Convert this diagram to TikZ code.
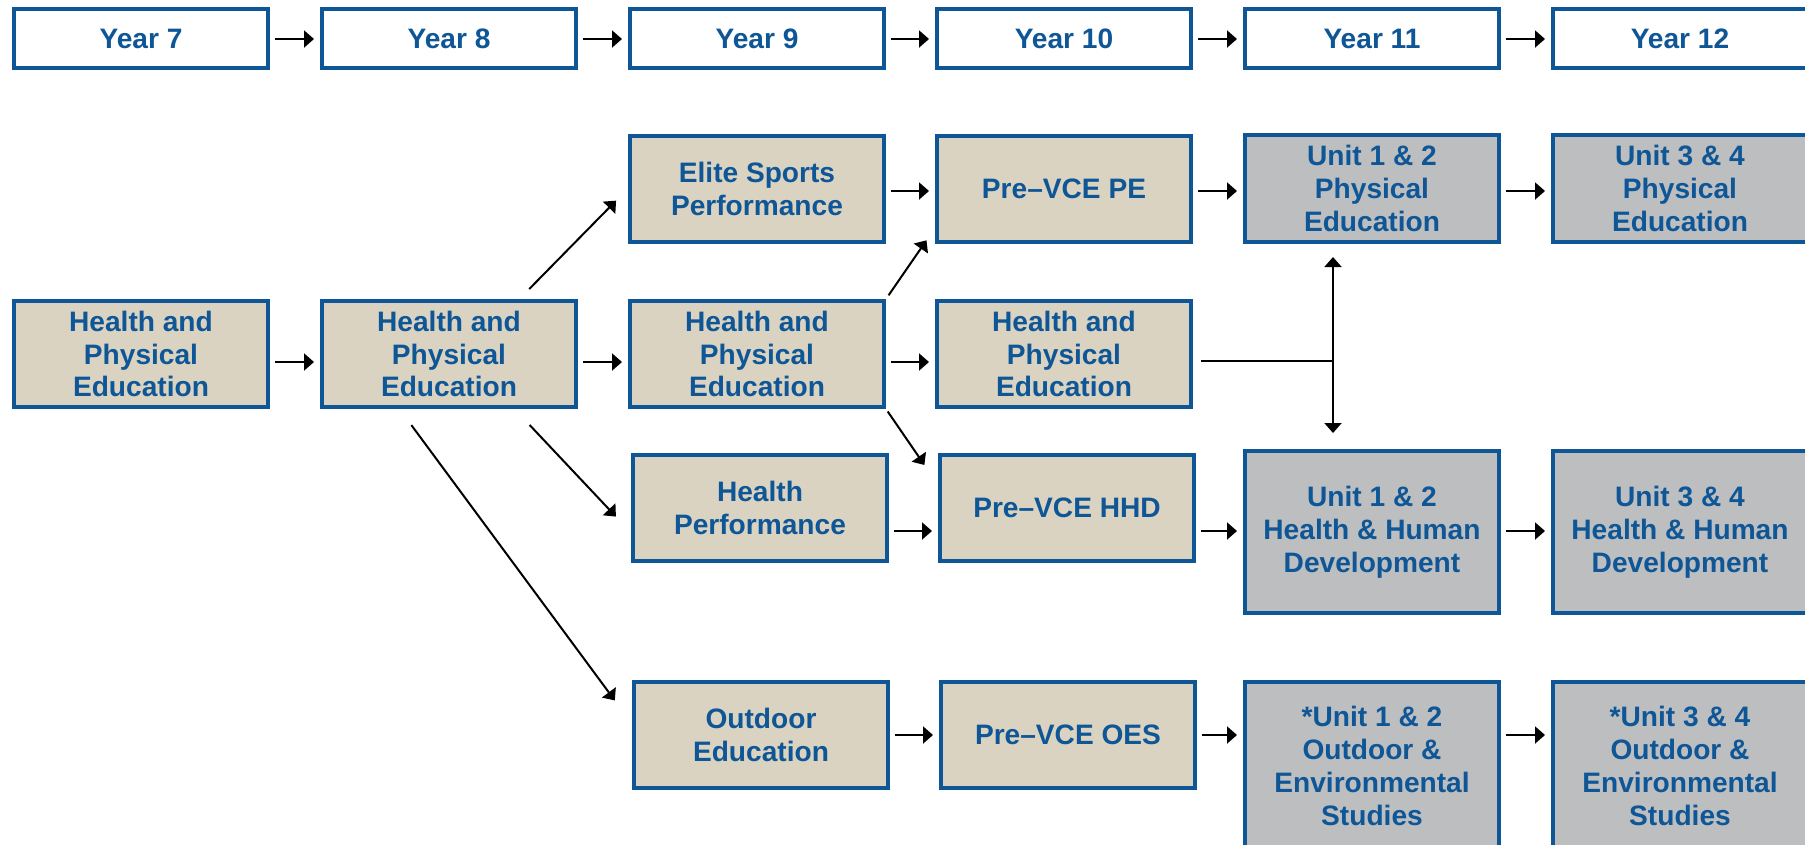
\documentclass[tikz,border=0pt]{standalone}
\usepackage{fontspec}
\setmainfont{Liberation Sans}
\usetikzlibrary{arrows.meta}

\definecolor{pathblue}{RGB}{14,86,150}
\definecolor{coursefill}{RGB}{218,211,193}
\definecolor{unitfill}{RGB}{189,190,192}
\newcommand{\boxfont}{\fontsize{8pt}{9.36pt}\selectfont\bfseries}

\begin{document}
\begin{tikzpicture}[x = 0.1mm, y = -0.1mm, >={Triangle[length = 1mm, width = 1.7mm]},
	every node/.style = {rectangle, draw = pathblue, line width = 0.4mm, text = pathblue,
	font = \boxfont, align = center, inner sep = 0pt, minimum width = 25.4mm},
	yearbox/.style = {fill = white, minimum height = 5.9mm},
	coursebox/.style = {fill = coursefill, minimum height = 10.6mm},
	unitbox/.style = {fill = unitfill},
	link/.style = {->, line width = 0.2mm}]

	\useasboundingbox (0, 0) rectangle (1805, 844);

		\node (Y7)  at ( 141, 38.5) [yearbox] {Year 7};
		\node (Y8)  at ( 449, 38.5) [yearbox] {Year 8};
		\node (Y9)  at ( 757, 38.5) [yearbox] {Year 9};
		\node (Y10) at (1064, 38.5) [yearbox] {Year 10};
		\node (Y11) at (1372, 38.5) [yearbox] {Year 11};
		\node (Y12) at (1680, 38.5) [yearbox] {Year 12};

		\node (Elite) at ( 757, 188.5) [coursebox] {Elite Sports\\Performance};
		\node (PrePE) at (1064, 188.5) [coursebox] {Pre--VCE PE};
		\node (UPE12) at (1372, 188.5) [unitbox, minimum height = 10.7mm] {Unit 1 \& 2\\Physical\\Education};
		\node (UPE34) at (1680, 188.5) [unitbox, minimum height = 10.7mm] {Unit 3 \& 4\\Physical\\Education};

		\node (HPE7)  at ( 141, 354) [coursebox] {Health and\\Physical\\Education};
		\node (HPE8)  at ( 449, 354) [coursebox] {Health and\\Physical\\Education};
		\node (HPE9)  at ( 757, 354) [coursebox] {Health and\\Physical\\Education};
		\node (HPE10) at (1064, 354) [coursebox] {Health and\\Physical\\Education};

		\node (HP)     at ( 760, 507.5) [coursebox] {Health\\Performance};
		\node (PreHHD) at (1067, 507.5) [coursebox] {Pre--VCE HHD};
		\node (UHHD12) at (1372, 532) [unitbox, minimum height = 16.2mm] {Unit 1 \& 2\\Health \& Human\\Development};
		\node (UHHD34) at (1680, 532) [unitbox, minimum height = 16.2mm] {Unit 3 \& 4\\Health \& Human\\Development};

		\node (OE)     at ( 761, 735) [coursebox] {Outdoor\\Education};
		\node (PreOES) at (1068, 735) [coursebox] {Pre--VCE OES};
		\node (UOES12) at (1372, 766) [unitbox, minimum height = 16.8mm] {*Unit 1 \& 2\\Outdoor \&\\Environmental\\Studies};
		\node (UOES34) at (1680, 766) [unitbox, minimum height = 16.8mm] {*Unit 3 \& 4\\Outdoor \&\\Environmental\\Studies};

		\coordinate (J) at (1333, 361);

	    \foreach \from/\to/\lvl in {Y7/Y8/39, Y8/Y9/39, Y9/Y10/39, Y10/Y11/39, Y11/Y12/39,
	    	Elite/PrePE/191, PrePE/UPE12/191, UPE12/UPE34/191,
	    	HPE7/HPE8/362, HPE8/HPE9/362, HPE9/HPE10/362,
	    	HP/PreHHD/531, PreHHD/UHHD12/531, UHHD12/UHHD34/531,
	    	OE/PreOES/735, PreOES/UOES12/735, UOES12/UOES34/735}
	    	\draw [link, shorten <= 0.5mm, shorten >= 0.6mm] (\from.east |- 0,\lvl) -- (\to.west |- 0,\lvl);

	    % branches out of year 8 and year 9
	    \draw [link, shorten <= 1.4mm, shorten >= 1.7mm] (HPE8.38) -- (Elite.west);
	    \draw [link, shorten <= 2.2mm, shorten >= 2.2mm] (HPE8.-40) -- (HP.191);
	    \draw [link, shorten <= 2mm, shorten >= 2.9mm] (HPE8.228) -- (OE.175.5);
	    \draw [link, shorten <= 0.45mm, shorten >= 1.5mm] (HPE9.north east) -- (PrePE.197);
	    \draw [link, shorten <= 0.3mm, shorten >= 2.4mm] (HPE9.south east) -- (PreHHD.170);

	    % year 10 into either unit 1 & 2
	    \draw [line width = 0.2mm, shorten <= 0.8mm] (HPE10.east |- J) -- (J);
	    \draw [<->, line width = 0.2mm, shorten <= 1.3mm, shorten >= 1.6mm] (UPE12.south -| J) -- (UHHD12.north -| J);

	\end{tikzpicture}
\end{document}
